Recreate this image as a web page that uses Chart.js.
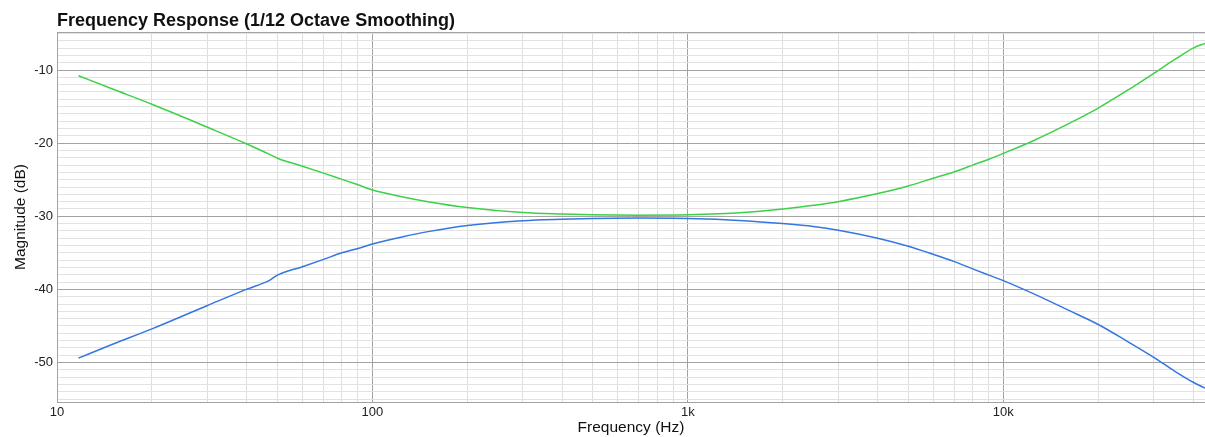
<!DOCTYPE html>
<html>
<head>
<meta charset="utf-8">
<script src="https://cdn.jsdelivr.net/npm/chart.js@4"></script>
<style>
  html, body { margin: 0; padding: 0; background: #fff; }
  #wrap { width: 1205px; height: 437px; }
</style>
</head>
<body>
<div id="wrap"><canvas id="fr-chart"></canvas></div>
<script>
// frequencies (Hz)
var freqs = [11.7, 15, 20, 30, 40, 47, 50, 60, 70, 80, 90, 100, 125, 150, 200, 300, 400, 500, 700,
             1000, 1500, 2000, 2500, 3000, 4000, 5000, 6000, 7000, 8000, 9000, 10000, 12400, 16000,
             20000, 24500, 30000, 35000, 40000, 43600];
var greenDb = [-10.78, -12.6, -14.69, -17.83, -20.11, -21.5, -22.06, -23.15, -24.1, -24.95, -25.7, -26.4, -27.35, -28.0,
               -28.8, -29.5, -29.7, -29.8, -29.85, -29.8, -29.5, -29.0, -28.5, -28.0, -26.9, -25.85, -24.8,
               -23.9, -23.0, -22.2, -21.4, -19.7, -17.4, -15.2, -12.9, -10.45, -8.55, -7.0, -6.35];
var blueDb = [-49.4, -47.5, -45.4, -42.2, -39.96, -38.8, -38.05, -36.9, -35.9, -35.0, -34.4, -33.8, -32.8, -32.1,
              -31.25, -30.6, -30.4, -30.3, -30.25, -30.3, -30.6, -31.0, -31.4, -31.9, -33.0, -34.1, -35.2,
              -36.2, -37.2, -38.05, -38.8, -40.55, -42.8, -44.8, -47.0, -49.3, -51.2, -52.7, -53.5];

var xMajor = [10, 100, 1000, 10000];
var xLabels = ['10', '100', '1k', '10k'];
var yLabels = [-10, -20, -30, -40, -50];

var FONT = '"Liberation Sans", Arial, Helvetica, sans-serif';

function pts(ys) {
    return freqs.map(function(f, i) { return {x: f, y: ys[i]}; });
}

// title drawn aligned with the plot's left edge
var titlePlugin = {
    id: 'leftTitle',
    afterDraw: function(chart) {
        var ctx = chart.ctx;
        ctx.save();
        ctx.font = 'bold 18px ' + FONT;
        ctx.fillStyle = '#111';
        ctx.textBaseline = 'alphabetic';
        ctx.fillText('Frequency Response (1/12 Octave Smoothing)', chart.chartArea.left, 26);
        ctx.restore();
    }
};

var ctx = document.getElementById('fr-chart').getContext('2d');
var chart = new Chart(ctx, {
    type: 'line',
    data: {
        datasets: [{
            data: pts(greenDb),
            borderColor: 'rgb(62, 208, 72)',
            borderWidth: 1.5,
            pointRadius: 0,
            cubicInterpolationMode: 'monotone'
        }, {
            data: pts(blueDb),
            borderColor: 'rgb(52, 118, 226)',
            borderWidth: 1.5,
            pointRadius: 0,
            cubicInterpolationMode: 'monotone'
        }]
    },
    options: {
        responsive: true,
        maintainAspectRatio: false,
        animation: false,
        layout: { padding: { top: 32, left: 0, right: 0, bottom: 0 } },
        plugins: { legend: { display: false }, tooltip: { enabled: false }, title: { display: false } },
        scales: {
            x: {
                type: 'logarithmic',
                min: 10,
                max: 43600,
                afterFit: function(s) { s.height = 35; },
                afterBuildTicks: function(s) {
                    var t = [];
                    for (var d = 10; d <= 10000; d *= 10) {
                        for (var m = 1; m <= 9; m++) {
                            if (d * m <= s.max) t.push({value: d * m});
                        }
                    }
                    s.ticks = t;
                },
                ticks: {
                    autoSkip: false,
                    maxRotation: 0,
                    padding: 3,
                    color: '#222',
                    font: { family: FONT, size: 13 },
                    callback: function(v) {
                        var i = xMajor.indexOf(v);
                        return i >= 0 ? xLabels[i] : '';
                    }
                },
                grid: {
                    drawTicks: false,
                    color: function(c) {
                        return xMajor.indexOf(c.tick.value) >= 0 ? '#a3a3a3' : '#dedede';
                    },
                    lineWidth: 1
                },
                border: { color: '#a3a3a3' },
                title: {
                    display: true,
                    text: 'Frequency (Hz)',
                    color: '#111',
                    font: { family: FONT, size: 15.5 },
                    padding: { top: 0, bottom: 0 }
                }
            },
            y: {
                min: -55.4,
                max: -4.8,
                afterFit: function(s) { s.width = 57; },
                afterBuildTicks: function(s) {
                    var t = [{value: s.min}];
                    for (var v = -55; v <= -5; v++) t.push({value: v});
                    t.push({value: s.max});
                    s.ticks = t;
                },
                ticks: {
                    autoSkip: false,
                    padding: 4,
                    color: '#222',
                    font: { family: FONT, size: 13 },
                    callback: function(v) {
                        return yLabels.indexOf(v) >= 0 ? String(v) : '';
                    }
                },
                grid: {
                    drawTicks: false,
                    color: function(c) {
                        var v = c.tick.value;
                        return (yLabels.indexOf(v) >= 0 || v === -4.8 || v === -55.4) ? '#a3a3a3' : '#e2e2e2';
                    },
                    lineWidth: 1
                },
                border: { color: '#a3a3a3' },
                title: {
                    display: true,
                    text: 'Magnitude (dB)',
                    color: '#111',
                    font: { family: FONT, size: 15.5 },
                    padding: { top: 11, bottom: 0 }
                }
            }
        }
    },
    plugins: [titlePlugin]
});
</script>
</body>
</html>
